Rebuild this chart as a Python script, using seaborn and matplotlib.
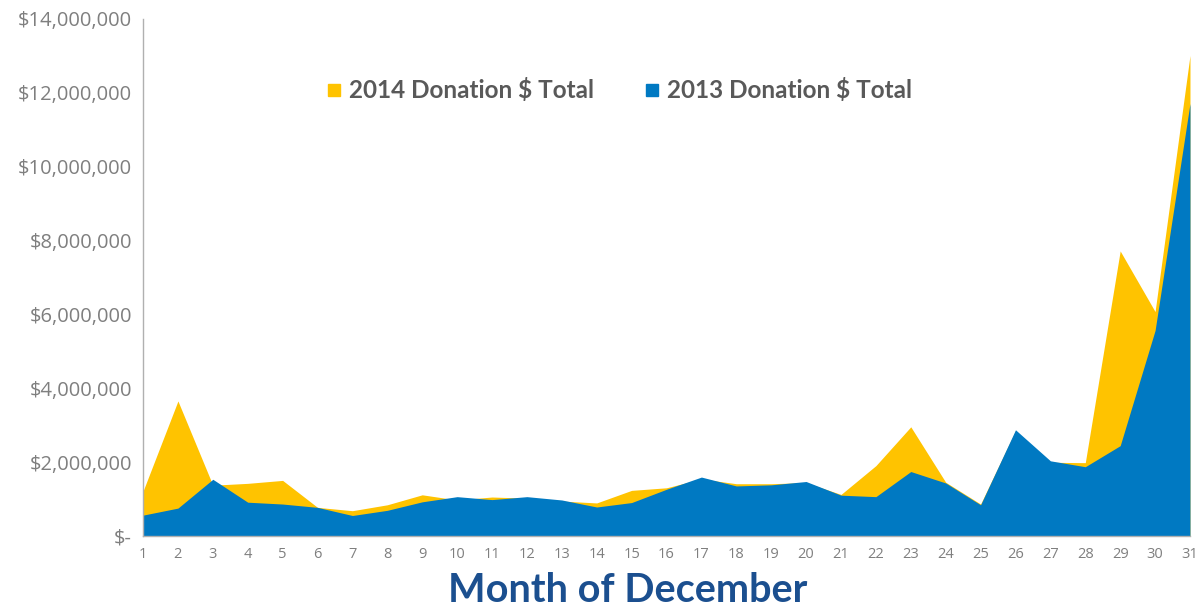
import numpy as np
import pandas as pd
import matplotlib
matplotlib.use("Agg")
import matplotlib.pyplot as plt
from matplotlib.lines import Line2D
from matplotlib.ticker import FuncFormatter
import seaborn as sns

# Data
days = list(range(1, 32))
total_2014 = [1.22, 3.66, 1.38, 1.43, 1.51, 0.78, 0.69, 0.85, 1.12, 0.98,
              1.06, 1.03, 0.95, 0.90, 1.24, 1.31, 1.55, 1.42, 1.42, 1.45,
              1.13, 1.91, 2.96, 1.46, 0.87, 2.85, 2.00, 1.99, 7.72, 6.08, 13.01]
total_2013 = [0.57, 0.76, 1.54, 0.92, 0.87, 0.78, 0.56, 0.70, 0.93, 1.07,
              0.99, 1.07, 0.98, 0.79, 0.91, 1.27, 1.60, 1.36, 1.39, 1.48,
              1.11, 1.07, 1.75, 1.44, 0.85, 2.88, 2.04, 1.88, 2.45, 5.57, 11.71]

df = pd.DataFrame({
    "day": days,
    "2014 Donation $ Total": np.array(total_2014) * 1e6,
    "2013 Donation $ Total": np.array(total_2013) * 1e6,
})

sns.set_theme(style="white")
plt.rcParams["font.family"] = ["Open Sans", "DejaVu Sans"]

yellow = "#FFC300"
blue = "#0079C2"
grey = "#7f7f7f"

fig = plt.figure(figsize=(12.02, 6.10), dpi=100)
ax = fig.add_axes([0.119, 0.121, 0.871, 0.848])

# Area series: 2014 behind, 2013 in front
sns.lineplot(data=df, x="day", y="2014 Donation $ Total", ax=ax, color=yellow, linewidth=0)
sns.lineplot(data=df, x="day", y="2013 Donation $ Total", ax=ax, color=blue, linewidth=0)
ax.fill_between(df["day"], df["2014 Donation $ Total"], color=yellow, linewidth=0)
ax.fill_between(df["day"], df["2013 Donation $ Total"], color=blue, linewidth=0)

ax.set_xlim(1, 31)
ax.set_ylim(0, 14e6)
ax.set_xticks(days)
ax.set_yticks(np.arange(0, 14e6 + 1, 2e6))

def money(v, pos):
    if v == 0:
        return "$-"
    return "${:,.0f}".format(v)

ax.yaxis.set_major_formatter(FuncFormatter(money))
ax.tick_params(axis="y", labelsize=14.5, labelcolor=grey, length=0, pad=8)
ax.tick_params(axis="x", labelsize=10.5, labelcolor=grey, length=0, pad=8)

sns.despine(ax=ax, top=True, right=True)
ax.spines["left"].set_color("#b0b0b0")
ax.spines["bottom"].set_color("#b0b0b0")
ax.spines["left"].set_linewidth(1)
ax.spines["bottom"].set_linewidth(1)

ax.set_ylabel("")
ax.set_xlabel("Month of December", fontsize=28.5, color="#1B4F8F",
              fontweight="bold", family=["Lato", "DejaVu Sans"], labelpad=8)
ax.xaxis.set_label_coords(0.463, -0.07)

handles = [
    Line2D([], [], marker="s", linestyle="none", color=yellow, markersize=9),
    Line2D([], [], marker="s", linestyle="none", color=blue, markersize=9),
]
leg = ax.legend(handles, ["2014 Donation $ Total", "2013 Donation $ Total"],
                loc="upper center", bbox_to_anchor=(0.454, 0.928), ncol=2,
                frameon=False, handletextpad=0.2,
                columnspacing=2.0, handlelength=0.8,
                prop={"family": ["Lato", "DejaVu Sans"], "size": 17.5, "weight": "bold"})
for t in leg.get_texts():
    t.set_color("#595959")

fig.savefig("out.png", dpi=100)
